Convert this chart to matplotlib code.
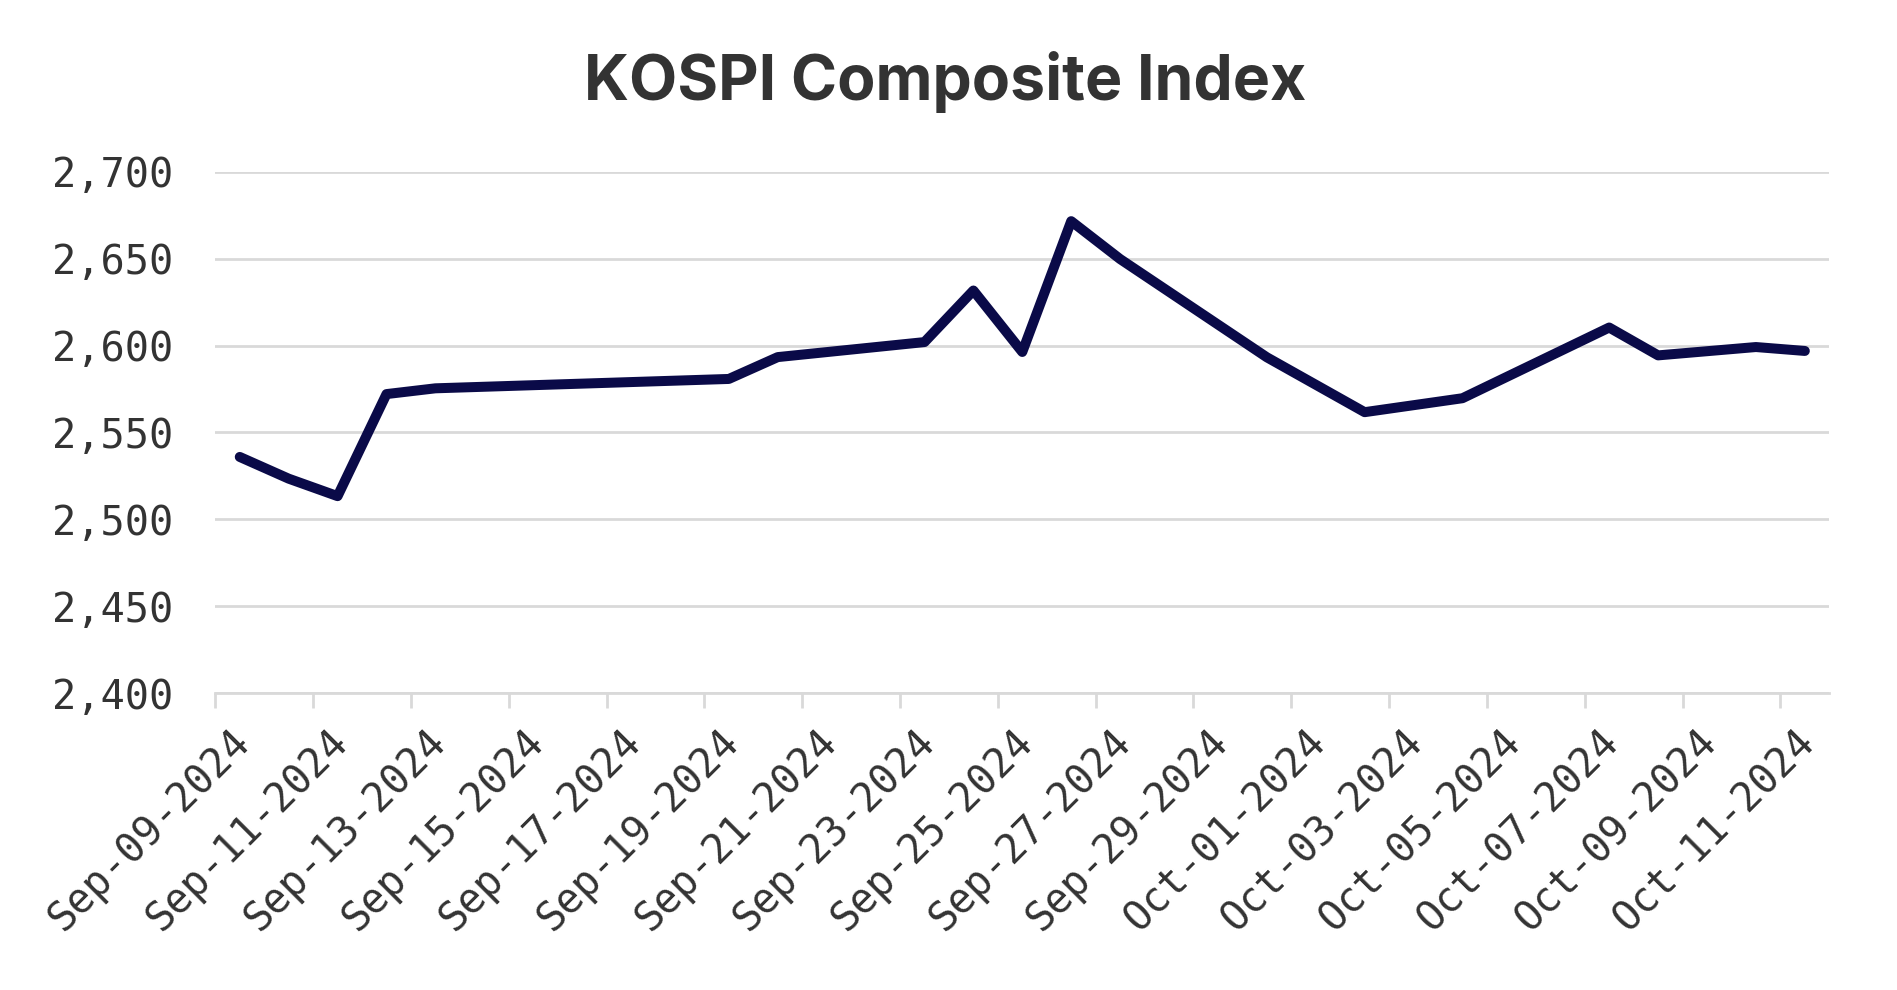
import matplotlib
matplotlib.use('Agg')
import matplotlib.pyplot as plt
import matplotlib.dates as mdates
import matplotlib.ticker as mticker
import matplotlib.transforms as mtransforms
import pandas as pd

# KOSPI daily close, trading days only
dates = ['2024-09-09', '2024-09-10', '2024-09-11', '2024-09-12', '2024-09-13',
         '2024-09-19', '2024-09-20', '2024-09-23', '2024-09-24', '2024-09-25',
         '2024-09-26', '2024-09-27', '2024-09-30', '2024-10-02', '2024-10-04',
         '2024-10-07', '2024-10-08', '2024-10-10', '2024-10-11']
closes = [2535.93, 2523.43, 2513.37, 2572.09, 2575.41,
          2580.80, 2593.37, 2602.01, 2631.68, 2596.32,
          2671.57, 2649.78, 2593.27, 2561.69, 2569.71,
          2610.38, 2594.36, 2599.16, 2596.91]
y_ticks = [2400, 2450, 2500, 2550, 2600, 2650, 2700]

x = pd.to_datetime(dates) + pd.Timedelta(hours=12)
tick_days = pd.date_range('2024-09-09', '2024-10-11', freq='2D')

fig = plt.figure(figsize=(18.97, 9.90), dpi=100)
ax = fig.add_axes([0.1135, 0.2998, 0.8508, 0.5267])

ax.plot(x, closes, color='#0a0a48', linewidth=7.2, solid_joinstyle='round',
        solid_capstyle='round', zorder=3)

ax.set_ylim(2400, 2700)
ax.set_xlim(pd.Timestamp('2024-09-09'), pd.Timestamp('2024-10-12'))

# gridlines
ax.set_yticks(y_ticks)
ax.yaxis.set_major_formatter(mticker.FuncFormatter(lambda v, p: f'{v:,.0f}'))
ax.grid(axis='y', color='#d9d9d9', linewidth=2)
ax.set_axisbelow(True)
ax.tick_params(axis='y', length=0, pad=30, labelsize=29, labelcolor='#333333')
for lbl in ax.get_yticklabels():
    lbl.set_fontfamily('DejaVu Sans Mono')

# tick marks at day boundaries, labels at day centres
ax.set_xticks(tick_days)
ax.tick_params(axis='x', which='major', length=11, width=2, color='#d9d9d9',
               labelbottom=False)
ax.set_xticks(tick_days + pd.Timedelta(hours=12), minor=True)
ax.xaxis.set_minor_formatter(mdates.DateFormatter('%b-%d-%Y'))
ax.tick_params(axis='x', which='minor', length=0, pad=21, labelsize=29,
               labelcolor='#333333')
shift = mtransforms.ScaledTranslation(-0.1, 0, fig.dpi_scale_trans)
for lbl in ax.get_xticklabels(minor=True):
    lbl.set_fontfamily('DejaVu Sans Mono')
    lbl.set_rotation(45)
    lbl.set_ha('right')
    lbl.set_va('top')
    lbl.set_rotation_mode('anchor')
    lbl.set_transform(lbl.get_transform() + shift)

for s in ['top', 'right', 'left']:
    ax.spines[s].set_visible(False)
ax.spines['bottom'].set_color('#d9d9d9')
ax.spines['bottom'].set_linewidth(2)

fig.text(0.498, 0.917, 'KOSPI Composite Index', ha='center', va='center',
         fontsize=45, fontweight='bold', color='#333333', family='Inter')

fig.savefig('out.png', dpi=100, facecolor='white')
